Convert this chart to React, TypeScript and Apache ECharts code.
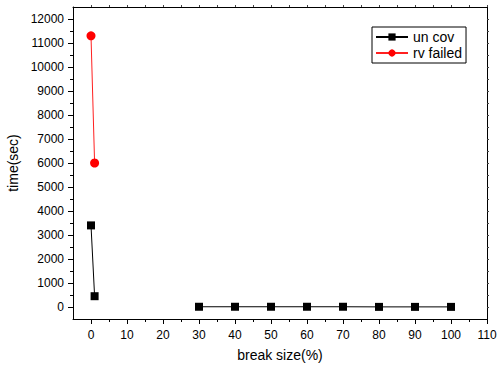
import React, { useEffect, useRef } from "react";
import * as echarts from "echarts";

// break size (%) and elapsed time (sec)
const unCovX = [0, 1, 30, 40, 50, 60, 70, 80, 90, 100];
const unCovY = [3400, 450, 10, 10, 10, 10, 10, 5, 5, 5];
// no runs between 1% and 30%: the curve is drawn as two pieces
const unCovSplitAt = 2;
const rvFailedX = [0, 1];
const rvFailedY = [11300, 6000];

const xMajorTicks = [0, 10, 20, 30, 40, 50, 60, 70, 80, 90, 100, 110];
const xMinorTicks = [5, 15, 25, 35, 45, 55, 65, 75, 85, 95, 105];
const yMajorTicks = [0, 1000, 2000, 3000, 4000, 5000, 6000, 7000, 8000, 9000, 10000, 11000, 12000];
const yMinorTicks = [500, 1500, 2500, 3500, 4500, 5500, 6500, 7500, 8500, 9500, 10500, 11500];

const FONT = "'Liberation Sans', Arial, sans-serif";

export default function App() {
  const ref = useRef<HTMLDivElement>(null);

  useEffect(() => {
    if (!ref.current) return;
    const chart = echarts.init(ref.current, undefined, { renderer: "svg" });
    const black = "#000";
    const xAll = [...xMajorTicks, ...xMinorTicks].sort((a, b) => a - b);
    const yAll = [...yMajorTicks, ...yMinorTicks].sort((a, b) => a - b);
    const baseX = { type: "value" as const, min: -5, max: 110, splitLine: { show: false } };
    const baseY = { type: "value" as const, min: -500, max: 12500, splitLine: { show: false } };
    const plain = (v: number) => String(v);
    const frameLine = { show: true, onZero: false, lineStyle: { color: black, width: 1 } };
    const noLine = { show: false, onZero: false };

    const unCovPts = unCovX.map((x, i) => [x, unCovY[i]]);
    const unCovStyle = {
      type: "line" as const,
      name: "un cov",
      xAxisIndex: 0,
      yAxisIndex: 0,
      symbol: "rect",
      symbolSize: 8,
      itemStyle: { color: black },
      lineStyle: { color: black, width: 1 },
    };

    chart.setOption({
      animation: false,
      backgroundColor: "#fff",
      textStyle: { fontFamily: FONT },
      grid: { left: 73, right: 11, top: 7, bottom: 48, outerBoundsMode: "none", containLabel: false },
      legend: {
        orient: "vertical",
        left: 372,
        top: 27,
        padding: [3, 4, 3, 3],
        borderColor: black,
        borderWidth: 1,
        itemWidth: 32,
        itemHeight: 9,
        itemGap: 2,
        textStyle: { fontSize: 14, color: black, fontFamily: FONT, lineHeight: 14 },
        data: ["un cov", "rv failed"],
      },
      xAxis: [
        {
          ...baseX,
          position: "bottom",
          name: "break size(%)",
          nameLocation: "middle",
          nameGap: 29,
          nameTextStyle: { fontSize: 14, color: black, fontFamily: FONT },
          axisLine: frameLine,
          axisTick: { customValues: xMajorTicks, length: 5, lineStyle: { color: black } },
          axisLabel: { customValues: xMajorTicks, formatter: plain, fontSize: 12, color: black, margin: 10, fontFamily: FONT },
        },
        {
          ...baseX,
          position: "bottom",
          axisLine: noLine,
          axisTick: { show: true, customValues: xMinorTicks, length: 3, lineStyle: { color: black } },
          axisLabel: { show: false },
        },
        {
          ...baseX,
          position: "top",
          axisLine: frameLine,
          axisTick: { show: true, customValues: xAll, length: 2, lineStyle: { color: "#444" } },
          axisLabel: { show: false },
        },
      ],
      yAxis: [
        {
          ...baseY,
          position: "left",
          name: "time(sec)",
          nameLocation: "middle",
          nameGap: 50,
          nameTextStyle: { fontSize: 14, color: black, fontFamily: FONT },
          axisLine: frameLine,
          axisTick: { show: true, customValues: yMajorTicks, length: 5, lineStyle: { color: black } },
          axisLabel: { customValues: yMajorTicks, formatter: plain, fontSize: 12, color: black, margin: 9, fontFamily: FONT },
        },
        {
          ...baseY,
          position: "left",
          axisLine: noLine,
          axisTick: { show: true, customValues: yMinorTicks, length: 3, lineStyle: { color: black } },
          axisLabel: { show: false },
        },
        {
          ...baseY,
          position: "right",
          axisLine: frameLine,
          axisTick: { show: true, customValues: yAll, length: 2, lineStyle: { color: "#444" } },
          axisLabel: { show: false },
        },
      ],
      series: [
        { ...unCovStyle, data: unCovPts.slice(0, unCovSplitAt) },
        {
          name: "rv failed",
          type: "line",
          xAxisIndex: 0,
          yAxisIndex: 0,
          data: rvFailedX.map((x, i) => [x, rvFailedY[i]]),
          symbol: "circle",
          symbolSize: 9,
          itemStyle: { color: "#ff0000" },
          lineStyle: { color: "#ff2020", width: 1 },
        },
        { ...unCovStyle, data: unCovPts.slice(unCovSplitAt) },
      ],
    });

    return () => chart.dispose();
  }, []);

  return <div ref={ref} style={{ width: 498, height: 367, position: "absolute", left: 0, top: 0 }} />;
}
